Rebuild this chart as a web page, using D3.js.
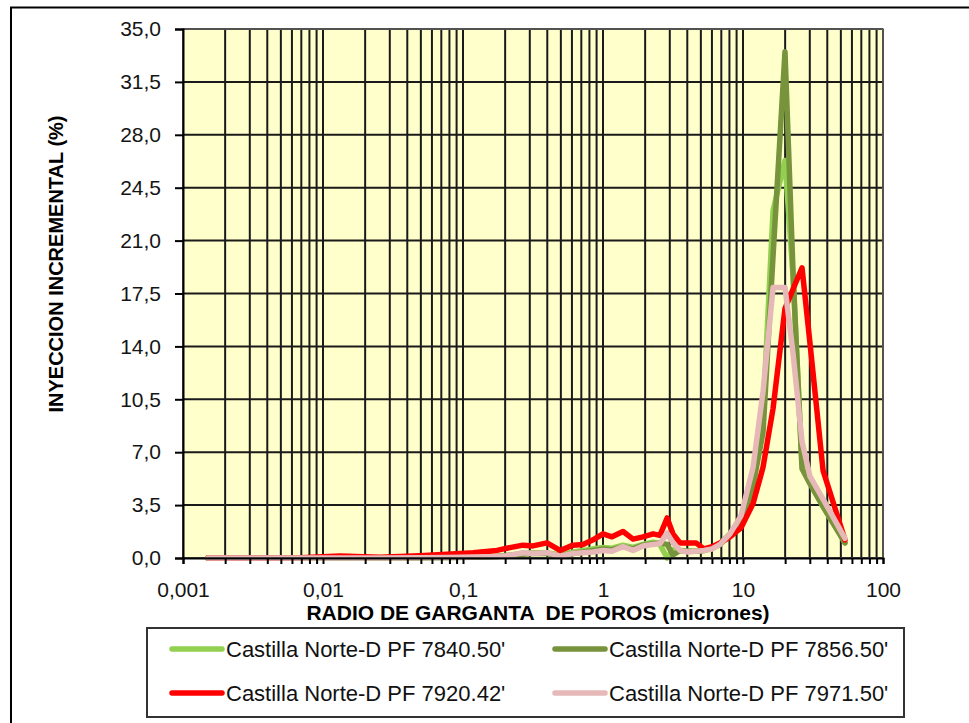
<!DOCTYPE html>
<html>
<head>
<meta charset="utf-8">
<script src="https://cdn.jsdelivr.net/npm/d3@7"></script>
<style>
  html, body { margin: 0; padding: 0; background: #fff; }
  svg { display: block; font-family: "Liberation Sans", Arial, sans-serif; }
</style>
</head>
<body>
<svg id="chart" width="969" height="723"></svg>
<script>
// Pore-throat radius (microns) for each injection step
const radius = [0.0015, 0.0024, 0.0039, 0.0069, 0.0132, 0.0255, 0.049, 0.077, 0.118, 0.175,
  0.206, 0.268, 0.316, 0.398, 0.493, 0.611, 0.72, 0.849, 1.0, 1.16,
  1.39, 1.64, 1.93, 2.28, 2.55, 2.87, 3.16, 3.55, 4.05, 4.62,
  5.27, 6.01, 6.85, 8.07, 9.68, 11.8, 13.9, 16.4, 19.95, 22.8,
  26.4, 30.1, 37.3, 53.5];

// Incremental injection (%) per sample
const pf7840 = [0, 0, 0, 0, 0, 0, 0.02, 0.03, 0.06, 0.12,
  0.18, 0.3, 0.35, 0.35, 0.2, 0.4, 0.5, 0.6, 0.7, 0.65,
  0.85, 0.7, 0.9, 1.05, 0.9, 0.0, 0.55, 0.5, 0.45, 0.45,
  0.5, 0.65, 0.95, 1.6, 2.5, 4.6, 9.5, 23.0, 26.3, 18.5,
  6.2, 5.0, 3.4, 1.0];
const pf7856 = [0, 0, 0, 0, 0, 0, 0.02, 0.03, 0.05, 0.1,
  0.15, 0.25, 0.3, 0.3, 0.15, 0.3, 0.4, 0.5, 0.6, 0.55,
  0.75, 0.6, 0.85, 0.95, 1.0, 0.9, 0.2, 0.5, 0.45, 0.45,
  0.5, 0.65, 0.9, 1.5, 2.3, 4.8, 8.3, 20.0, 33.5, 18.8,
  5.9, 4.9, 3.4, 1.0];
const pf7920 = [0, 0, 0, 0.02, 0.13, 0.05, 0.15, 0.25, 0.35, 0.5,
  0.65, 0.85, 0.8, 1.0, 0.5, 0.85, 0.9, 1.2, 1.6, 1.4,
  1.75, 1.25, 1.4, 1.6, 1.5, 2.65, 1.6, 1.0, 1.0, 1.0,
  0.6, 0.75, 1.0, 1.4, 2.0, 3.6, 6.0, 9.9, 16.5, 17.8,
  19.2, 14.2, 5.8, 1.2];
const pf7971 = [0, 0, 0, 0, 0, 0, 0.02, 0.04, 0.06, 0.1,
  0.15, 0.35, 0.3, 0.35, 0.12, 0.3, 0.35, 0.4, 0.5, 0.45,
  0.75, 0.5, 0.8, 0.9, 0.95, 1.65, 1.0, 0.5, 0.4, 0.45,
  0.5, 0.6, 0.9, 1.6, 2.8, 6.0, 11.0, 17.9, 17.9, 13.5,
  7.7, 5.4, 3.9, 1.3];

const seriesNames = ["Castilla Norte-D PF 7840.50'", "Castilla Norte-D PF 7856.50'",
  "Castilla Norte-D PF 7920.42'", "Castilla Norte-D PF 7971.50'"];
const seriesColors = ["#92D050", "#77933C", "#FF0000", "#E6B9B8"];
const seriesValues = [pf7840, pf7856, pf7920, pf7971];

const yTicks = [0, 3.5, 7, 10.5, 14, 17.5, 21, 24.5, 28, 31.5, 35];
const xLabelTicks = [0.001, 0.01, 0.1, 1, 10, 100];
const xTickLabels = ["0,001", "0,01", "0,1", "1", "10", "100"];

const yTitle = "INYECCION INCREMENTAL (%)";
const xTitle = "RADIO DE GARGANTA  DE POROS (micrones)";

const svg = d3.select("#chart");
const plot = { left: 183, top: 29, right: 883, bottom: 558 };

const x = d3.scaleLog().domain([0.001, 100]).range([plot.left, plot.right]);
const y = d3.scaleLinear().domain([0, 35]).range([plot.bottom, plot.top]);

// outer frame of the chart area
svg.append("path")
  .attr("d", `M11,730 L11,7.5 L975,7.5`)
  .attr("fill", "none").attr("stroke", "#000").attr("stroke-width", 2);

// plot background
svg.append("rect")
  .attr("x", plot.left).attr("y", plot.top)
  .attr("width", plot.right - plot.left).attr("height", plot.bottom - plot.top)
  .attr("fill", "#FFFFCC");

// grid
const grid = svg.append("g").attr("stroke", "#1a1a1a").attr("stroke-width", 2);
const xGrid = x.ticks();
grid.selectAll("line.vx").data(xGrid).join("line")
  .attr("x1", d => x(d)).attr("x2", d => x(d))
  .attr("y1", plot.top).attr("y2", plot.bottom);
grid.selectAll("line.hy").data(yTicks).join("line")
  .attr("x1", plot.left).attr("x2", plot.right)
  .attr("y1", d => y(d)).attr("y2", d => y(d));

// series lines
const line = d3.line()
  .x((d, i) => x(radius[i]))
  .y(d => y(d));
svg.append("g").selectAll("path").data(seriesValues).join("path")
  .attr("d", d => line(d))
  .attr("fill", "none")
  .attr("stroke", (d, i) => seriesColors[i])
  .attr("stroke-width", 5.5)
  .attr("stroke-linejoin", "round")
  .attr("stroke-linecap", "round");

// plot frame
svg.append("rect")
  .attr("x", plot.left).attr("y", plot.top)
  .attr("width", plot.right - plot.left).attr("height", plot.bottom - plot.top)
  .attr("fill", "none").attr("stroke", "#666").attr("stroke-width", 1.5);

// y axis
const yAxis = svg.append("g")
  .attr("transform", `translate(${plot.left},0)`)
  .call(d3.axisLeft(y).tickValues(yTicks).tickSize(8).tickPadding(14)
    .tickFormat(d => d3.format(".1f")(d).replace(".", ",")));
yAxis.select(".domain").attr("stroke", "#000").attr("stroke-width", 2);
yAxis.selectAll(".tick line").attr("stroke", "#000").attr("stroke-width", 2);
yAxis.selectAll(".tick text").attr("font-size", 21).attr("fill", "#141414")
  .attr("font-family", "Liberation Sans, Arial, sans-serif");

// x axis
const xAxis = svg.append("g")
  .attr("transform", `translate(0,${plot.bottom})`)
  .call(d3.axisBottom(x).tickValues(xGrid).tickSize(6).tickPadding(18)
    .tickFormat(d => {
      const k = xLabelTicks.findIndex(v => Math.abs(v - d) / v < 1e-6);
      return k >= 0 ? xTickLabels[k] : "";
    }));
xAxis.select(".domain").attr("stroke", "#000").attr("stroke-width", 2);
xAxis.selectAll(".tick line").attr("stroke", "#000").attr("stroke-width", 2);
xAxis.selectAll(".tick text").attr("font-size", 21).attr("fill", "#141414")
  .attr("font-family", "Liberation Sans, Arial, sans-serif");

// axis titles
svg.append("text")
  .attr("transform", "translate(63,264) rotate(-90)")
  .attr("text-anchor", "middle")
  .attr("font-size", 20).attr("font-weight", "bold").attr("fill", "#000")
  .text(yTitle);
svg.append("text")
  .attr("x", 538).attr("y", 620)
  .attr("text-anchor", "middle")
  .style("white-space", "pre")
  .attr("font-size", 21).attr("font-weight", "bold").attr("fill", "#000")
  .text(xTitle);

// legend
const legend = svg.append("g");
legend.append("rect")
  .attr("x", 147).attr("y", 628).attr("width", 757).attr("height", 89)
  .attr("fill", "#fff").attr("stroke", "#333").attr("stroke-width", 2);
const legendPos = [[172, 649], [555, 649], [172, 693], [555, 693]];
const item = legend.selectAll("g.item").data(seriesNames).join("g")
  .attr("transform", (d, i) => `translate(${legendPos[i][0]},${legendPos[i][1]})`);
item.append("line")
  .attr("x1", 0).attr("x2", 50).attr("y1", 0).attr("y2", 0)
  .attr("stroke", (d, i) => seriesColors[i])
  .attr("stroke-width", 5.5).attr("stroke-linecap", "round");
item.append("text")
  .attr("x", 54).attr("y", 0).attr("dy", "0.35em")
  .attr("font-size", 22).attr("fill", "#111")
  .text(d => d);
</script>
</body>
</html>
